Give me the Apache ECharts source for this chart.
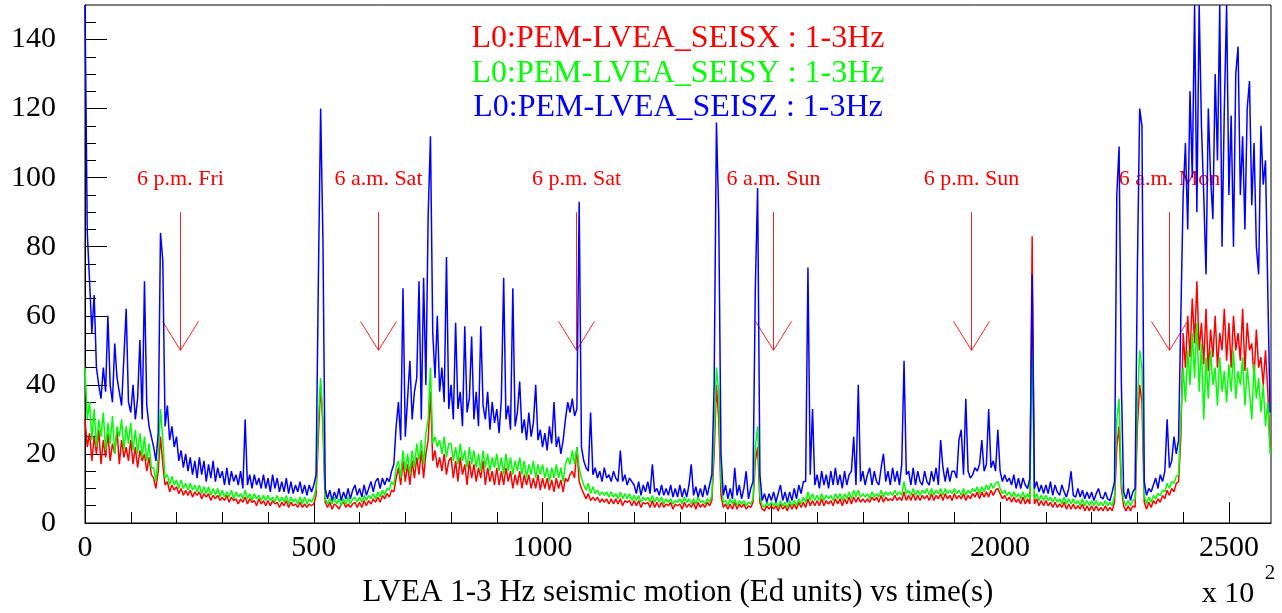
<!DOCTYPE html>
<html><head><meta charset="utf-8">
<script src="https://cdn.jsdelivr.net/npm/echarts@6/dist/echarts.min.js"></script>
<style>html,body{margin:0;padding:0;background:#fff}#chart{width:1282px;height:613px}</style>
</head><body><div id="chart"></div>
<script>
// sampling interval of the arrays below, in units of 100 s
const sampleStep = 5;
const seriesNames = ['L0:PEM-LVEA_SEISX : 1-3Hz', 'L0:PEM-LVEA_SEISY : 1-3Hz', 'L0:PEM-LVEA_SEISZ : 1-3Hz'];

const seisX = [
30,22,26,18,25,20,27,17,24,19,26,18,23,20,27,17,24,19,22,18,
24,17,22,16,21,18,20,15,19,14,13,10,15,25,17,11,12,9,11,9.5,
10.5,8.5,10,8,9.5,8,9.5,7.5,9,8,9,7,8.5,7.5,8.5,6.5,8,7,8,6.5,
7.5,6.5,8,6,7.5,6.5,7,5.5,7,6,7.5,5.5,7,6,6.5,5,7,5.5,6.5,5,
6.5,5,6.5,5.5,6,4.5,6,5,6.5,4.5,6,5,5.5,4.5,6,4.5,5.5,4.5,5.5,5,
5.5,8,25,40,28,6,4.5,6,4,5.5,5,4,5.5,6,4.5,5.5,4.5,5.5,6,4.5,
6,4.5,6.5,5,6.5,5.5,7,6,7.5,6,8,7,8.5,7.5,9.5,9,13,16,11,18,
12,17,11,18,13,19,14,21,13,20,24,38,18,21,16,19,15,20,14,18,
19,13,18,12,19,14,17,11,18,13,17,12,16,13,18,11,16,12,15,11,
16,11,15,11,16,12,15,10,14,11,15,10,14,11,14,10,13,10,14,9.5,
13,10,13,9.5,12.5,9,13,10,12.5,9,13,12,14,15,13,22,12,10,8.5,7,
8.5,6.5,7.5,6.5,7.5,6,7,6,7,5.5,7,5.5,7,5.5,7,5,6.5,6,6.5,5,
6.5,5,6.5,4.5,6,5.5,6,4.5,6.5,4.5,6,4.5,6,4.5,5.5,5,6,4,5.5,5,
5.5,4,6,4.5,5.5,4.5,6,4,6,4.5,5.5,4.5,6,5,6.5,20,40,30,8,4.5,
5.5,4,5.5,4,6,4,5.5,4.5,5.5,4,5,4.5,6,18,22,6,4,3.5,5,4,
5,4,5,3.5,5.5,4,5,3.5,5.5,4,5.5,4,6,4.5,6,4.5,7,5,6.5,5,
6.5,5,7,5,6.5,5.5,6.5,5,7,5.5,7,5,7,5.5,7.5,5.5,7.5,6,7.5,6,
7,6,7,6,7.5,6.5,7.5,6,8,6,7.5,6.5,7,6.5,8,6.5,7.5,6.5,9,6.5,
8,6.5,8.5,6.5,8,6.5,8,7,8,6.5,8.5,6.5,8,7,8.5,6.5,8.5,7,8,6.5,
8.5,7,8,7,8.5,6.5,8,7,8.5,7.5,9,7,9,7.5,9,7.5,9.5,8,9.5,10,
8.5,7,8,6.5,7.5,6,7.5,6,7,5.5,7.5,5.5,7,5.5,83,5.5,7,5,6.5,5,
6.5,5,6,4.5,6,4.5,5.5,4.5,6,4,5.5,4,5.5,4,5,4,5.5,3.5,5,3.5,
5,3.5,5,3.5,4.5,3.5,5,3.5,4.5,3.5,6,22,28,10,5,3.5,5,3.5,5,4.5,
28,40,35,6,4,6,4.5,6.5,5.5,7,6,8,7,9.5,8,10,9,11.5,12,25,
55,45,60,48,65,52,70,50,58,46,62,44,56,48,60,45,55,50,62,47,
58,45,60,50,55,47,62,44,58,50,52,42,56,45,48,40,50,38,22
];

const seisY = [
45,30,35,24,33,22,30,25,32,21,29,23,31,20,28,25,30,21,28,23,
29,21,27,20,26,19,25,18,23,16,16,12,19,33,24,13,14,11,13.5,11,
12.5,10,12.5,10,11.5,9.5,11.5,9.5,11,9,11,8.5,10.5,8.5,10.5,8,10,8,10,7.5,
9.5,7.5,9,7.5,9.5,7,9,7.5,8.5,7,9.5,7,8.5,6.5,8.5,7,8,6.5,8,6.5,
8,6.5,7.5,6,8,6,7.5,6,8,5.5,7.5,6,7,5.5,7.5,5.5,7.5,5.5,7,6,
7.5,10,30,42,30,7,5.5,7,5.5,7.5,5.5,7,5,7,5.5,7.5,5.5,7,7.5,6,
7.5,6,8,6.5,8,7,8.5,7,9,7.5,9.5,8,10,9.5,12,11,16,18,13,21,
15,20,14,21,16,23,18,24,17,26,30,45,23,25,22,24,20,25,19,23,
23,18,22,17,23,18,21,16,22,17,21,16,20,15,21,16,20,15,19,16,
20,15,19,14,20,15,19,14,18,15,19,14,18,13,17,14,18,13,17,14,
17,13,16,12,16,13,17,13,16,12,17,19,17,21,17,22,16,13,11,9.5,
11.5,8.5,10.5,8.5,9.5,8,9,8,9,7.5,9,7.5,8.5,7,9,7,8.5,7,8.5,6.5,
8,6.5,8,6,7.5,6.5,7.5,6,8,6,7.5,6,7.5,5.5,7,6,7,5.5,6.5,6,
7,5.5,7.5,6,7,5.5,7,5.5,7.5,6,6.5,5.5,7,6,8,25,45,38,12,6,
6.5,5,7,5.5,7,5,6.5,5.5,6.5,5,6,5.5,7,22,28,8,5,4.5,6,5,
6,5,6,4.5,6.5,5,6,4.5,6.5,5,6.5,5,7,5.5,7.5,6,9,6.5,8.5,6.5,
8,6.5,8.5,6.5,8,7,8,6.5,8.5,7,8.5,6.5,8.5,7,9,7,9.5,7.5,9.5,7.5,
8.5,7.5,8.5,7,9,7.5,8.5,7.5,9.5,7.5,9,8,9,8,9.5,8,9,8,12,8.5,
9.5,8,10,8,9.5,8,9.5,8.5,10,8,10,8,9.5,8.5,10,8,10,8.5,9.5,8.5,
10,8.5,9.5,8,10,8,9.5,8.5,10,9,10.5,8.5,10.5,9,11,9.5,11.5,10,11.5,12,
10,8.5,9.5,8,9,7.5,9,7.5,8.5,7,9,7,8.5,7,55,7,8.5,6.5,8,6.5,
8,6.5,7.5,6,7.5,6,7,5.5,7.5,5.5,7,5.5,7,5.5,6.5,5,7,5,6.5,5,
6.5,5,6.5,5,6,5,6.5,5,6,5,8,30,36,12,6.5,5,6.5,5,6.5,7,
35,50,45,8,5.5,7.5,6,8,7,8.5,8,9.5,9,11.5,10,12,11.5,13.5,14,30,
45,35,50,40,55,42,58,38,52,30,48,36,50,40,45,34,48,38,44,35,
46,38,50,36,44,40,48,34,45,38,30,46,36,42,32,40,28,35,20
];

const seisZ = [
150,84,70,55,66,45,40,36,45,38,60,40,35,52,42,38,34,48,62,35,
32,40,30,36,53,30,70,34,28,25,22,18,26,84,76,28,34,24,28,22,
25,18,21,16,20,15,19,14,18,13,19,14,18,12,17,13,18,12,16,13,
15,11,16,11,15,12,14,11,15,10,30,11,14,10,14,11,13,10,14,10,
13,9,14,10,13,9,12,9,13,8.5,12,8.5,11,9,12,8.5,11,8,11,9,
11,14,70,120,82,10,7,9.5,6.5,9,7,10,6.5,9,7,10,7,9.5,11,8,
10,7.5,11,8,10,12,9,12,13,10,13,11,13,12,15,17,28,35,24,68,
25,36,47,30,38,42,70,30,71,40,89,112,55,42,60,38,45,35,77,33,
40,30,58,33,38,28,57,32,36,54,30,38,28,57,34,30,38,27,35,29,
33,26,36,71,30,34,27,68,28,32,41,26,30,24,32,25,29,40,24,27,
22,26,21,28,23,35,22,25,20,24,30,35,32,36,31,33,93,22,18,16,
15,32,14,16,13,15,12,16,13,14,12,15,13,12,21,12,14,11,13,12,
11,8.5,12,8,11,9,12,8.5,17,9,10,8,11,8,10,8,11,7.5,10,7.5,
11,7.5,10,7.5,11,17,8,10.5,7.5,10,7.5,11,8,11,14,40,116,89,20,8,
11,7,10,7,16,8,11,7,10,15,7,10,12,68,97,14,6.5,8.5,6,8.5,
6.5,9,6,8.5,11,6.5,9,6,9,6.5,10,7,11,8.5,12,12,74,14,33,11,
14,10,15,11,14,10,15,11,16,11,14,10,15,11,14,15,25,11,40,12,
15,11,14,16,11,15,12,11,16,20,12,15,11,16,12,15,11,17,47,14,
15,11,16,11,15,12,11,15,12,11,15,12,16,11,24,16,12,16,12,15,
15,13,24,27,14,36,15,13,14,16,15,17,24,15,17,33,16,18,15,27,
15,12,14,12,13,11,14,10,13,10,13,11,10,13,72,10,12,9,11,8.5,
11,8.5,12,8,11,9,8,11,9,7.5,10,15,8,7.5,10,7.5,9.5,7,9,7,
9,6.5,8.5,10,7.5,7,9,7,6.5,9,12,95,109,40,9,7,10,6.5,9,10,
74,120,115,12,8,10,9,11,13,10,14,12,15,30,16,18,25,20,24,60,
95,110,85,125,100,150,90,150,115,95,72,120,100,88,130,105,150,80,120,150,
95,118,80,130,138,95,112,85,120,128,92,110,80,72,115,98,105,67,32
];

const xTickValues = [0, 500, 1000, 1500, 2000, 2500];
const xMinorTickValues = [100,200,300,400,600,700,800,900,1100,1200,1300,1400,1600,1700,1800,1900,2100,2200,2300,2400];
const yTickValues = [0, 20, 40, 60, 80, 100, 120, 140];
const yMinorTickValues = [5,10,15,25,30,35,45,50,55,65,70,75,85,90,95,105,110,115,125,130,135,145];
const arrowTimes = [208, 640, 1072, 1504, 1936, 2368];
const arrowLabels = ['6 p.m. Fri', '6 a.m. Sat', '6 p.m. Sat', '6 a.m. Sun', '6 p.m. Sun', '6 a.m. Mon'];
const axisTitle = 'LVEA 1-3 Hz seismic motion (Ed units) vs time(s)';
const xAxisMax = 2592;
const yAxisMax = 150;

const FONT = '"Liberation Serif", "Times New Roman", serif';
const colors = ['#ff0000', '#00ff00', '#0000ff'];
const ARROW_TOP = 90, ARROW_TIP = 50;

const toPairs = arr => arr.map((v, i) => [i * sampleStep, v]);

const chart = echarts.init(document.getElementById('chart'), null, { renderer: 'canvas' });

const baseX = { type: 'value', min: 0, max: xAxisMax, position: 'bottom', splitLine: { show: false } };
const baseY = { type: 'value', min: 0, max: yAxisMax, position: 'left', splitLine: { show: false } };
const plain = v => String(v);

const option = {
  animation: false,
  backgroundColor: '#ffffff',
  grid: { left: 85, right: 11, top: 5, bottom: 90, show: true, borderColor: '#000', borderWidth: 1, containLabel: false, outerBoundsMode: 'none' },
  xAxis: [
    Object.assign({}, baseX, {
      axisLine: { show: true, onZero: false, lineStyle: { color: '#000', width: 1 } },
      axisTick: { show: true, inside: true, length: 21, customValues: xTickValues, lineStyle: { color: '#000', width: 1 } },
      axisLabel: { show: true, customValues: xTickValues, formatter: plain, margin: 10, color: '#000', fontSize: 30, fontFamily: FONT }
    }),
    Object.assign({}, baseX, {
      axisLine: { show: false },
      axisTick: { show: true, inside: true, length: 11, customValues: xMinorTickValues, lineStyle: { color: '#000', width: 1 } },
      axisLabel: { show: false }
    })
  ],
  yAxis: [
    Object.assign({}, baseY, {
      axisLine: { show: true, onZero: false, lineStyle: { color: '#000', width: 1 } },
      axisTick: { show: true, inside: true, length: 22, customValues: yTickValues, lineStyle: { color: '#000', width: 1 } },
      axisLabel: { show: true, customValues: yTickValues, formatter: plain, margin: 29, color: '#000', fontSize: 30, fontFamily: FONT }
    }),
    Object.assign({}, baseY, {
      axisLine: { show: false },
      axisTick: { show: true, inside: true, length: 11, customValues: yMinorTickValues, lineStyle: { color: '#000', width: 1 } },
      axisLabel: { show: false }
    })
  ],
  graphic: [
    { type: 'text', x: 678, y: 39, z: 100, style: { text: seriesNames[0], fill: colors[0], font: '32px ' + FONT, align: 'center', verticalAlign: 'middle' } },
    { type: 'text', x: 678, y: 74, z: 100, style: { text: seriesNames[1], fill: colors[1], font: '32px ' + FONT, align: 'center', verticalAlign: 'middle' } },
    { type: 'text', x: 678, y: 108, z: 100, style: { text: seriesNames[2], fill: colors[2], font: '32px ' + FONT, align: 'center', verticalAlign: 'middle' } },
    { type: 'text', x: 678, y: 593, z: 100, style: { text: axisTitle, fill: '#000', font: '31px ' + FONT, align: 'center', verticalAlign: 'middle' } },
    { type: 'text', x: 1228, y: 594, z: 100, style: { text: 'x 10', fill: '#000', font: '30px ' + FONT, align: 'center', verticalAlign: 'middle' } },
    { type: 'text', x: 1270, y: 573, z: 100, style: { text: '2', fill: '#000', font: '21px ' + FONT, align: 'center', verticalAlign: 'middle' } }
  ],
  series: [
    {
      type: 'custom', xAxisIndex: 0, yAxisIndex: 0, z: 1, silent: true,
      data: arrowTimes.map(t => [t, ARROW_TIP]),
      renderItem: function (params, api) {
        const t = api.value(0);
        const top = api.coord([t, ARROW_TOP]);
        const tip = api.coord([t, ARROW_TIP]);
        const x = Math.round(tip[0]) + 0.5;
        return {
          type: 'group',
          children: [
            { type: 'line', shape: { x1: x, y1: top[1], x2: x, y2: tip[1] }, style: { stroke: '#ff2020', lineWidth: 1 } },
            { type: 'polyline', shape: { points: [[x - 18, tip[1] - 29], [x, tip[1]], [x + 18, tip[1] - 29]] }, style: { stroke: '#ff2020', fill: null, lineWidth: 1 } },
            { type: 'text', x: x, y: top[1] - 33, style: { text: arrowLabels[params.dataIndex], fill: '#ff0000', font: '22px ' + FONT, align: 'center', verticalAlign: 'middle' } }
          ]
        };
      }
    },
    { type: 'line', name: seriesNames[0], xAxisIndex: 0, yAxisIndex: 0, data: toPairs(seisX), showSymbol: false, symbol: 'none', silent: true, z: 2, lineStyle: { color: colors[0], width: 1.5 }, itemStyle: { color: colors[0] } },
    { type: 'line', name: seriesNames[1], xAxisIndex: 0, yAxisIndex: 0, data: toPairs(seisY), showSymbol: false, symbol: 'none', silent: true, z: 2, lineStyle: { color: colors[1], width: 1.5 }, itemStyle: { color: colors[1] } },
    { type: 'line', name: seriesNames[2], xAxisIndex: 0, yAxisIndex: 0, data: toPairs(seisZ), showSymbol: false, symbol: 'none', silent: true, z: 2, lineStyle: { color: colors[2], width: 1.5 }, itemStyle: { color: colors[2] } }
  ]
};
chart.setOption(option);
</script>
</body></html>
